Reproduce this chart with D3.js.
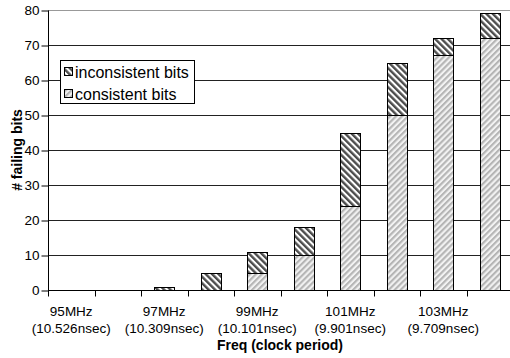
<!DOCTYPE html>
<html><head><meta charset="utf-8">
<script src="https://cdn.jsdelivr.net/npm/d3@7"></script>
<style>body{margin:0;background:#fff}svg{display:block}text{font-family:"Liberation Sans",Arial,sans-serif}</style>
</head><body>
<svg id="c" width="510" height="358"></svg>
<script>
const categories = ["95","96","97","98","99","100","101","102","103","104"];
const freqLabels = ["95MHz","","97MHz","","99MHz","","101MHz","","103MHz",""];
const periodLabels = ["(10.526nsec)","","(10.309nsec)","","(10.101nsec)","","(9.901nsec)","","(9.709nsec)",""];
const consistent = [0,0,0,0,5,10,24,50,67,72];
const inconsistent = [0,0,1,5,6,8,21,15,5,7];
const yTicks = [0,10,20,30,40,50,60,70,80];

(function(){
const svg = d3.select("#c");
const pl = 48, pr = 513, pt = 10, pb = 290;
const x = d3.scaleBand().domain(categories).range([pl, pr]).paddingInner(0).paddingOuter(0);
const y = d3.scaleLinear().domain([0,80]).range([pb, pt]);

const defs = svg.append("defs");
const p1 = defs.append("pattern").attr("id","pInc").attr("patternUnits","userSpaceOnUse")
  .attr("width",4.5).attr("height",4.5).attr("patternTransform","rotate(-45)");
p1.append("rect").attr("width",4.5).attr("height",4.5).attr("fill","#ffffff");
p1.append("rect").attr("width",2.4).attr("height",4.5).attr("fill","#4d4d4d");
const p2 = defs.append("pattern").attr("id","pCon").attr("patternUnits","userSpaceOnUse")
  .attr("width",4.2).attr("height",4.2).attr("patternTransform","rotate(45)");
p2.append("rect").attr("width",4.2).attr("height",4.2).attr("fill","#f2f2f2");
p2.append("rect").attr("width",2.1).attr("height",4.2).attr("fill","#b5b5b5");

// gridlines
svg.append("g").selectAll("line").data(yTicks.filter(d=>d>0)).join("line")
  .attr("x1",pl).attr("x2",510).attr("y1",d=>Math.round(y(d))+0.5).attr("y2",d=>Math.round(y(d))+0.5)
  .attr("stroke",d=>d===80?"#999":"#222").attr("stroke-width",1);

// bars
const bw = 20;
const g = svg.append("g");
categories.forEach((c,i)=>{
  const cx = x(c) + x.bandwidth()/2;
  const x0 = Math.round(cx - bw/2) + 0.5;
  if (consistent[i] > 0) {
    g.append("rect").attr("x",x0).attr("width",bw)
      .attr("y",Math.round(y(consistent[i]))+0.5).attr("height",Math.round(y(0))-Math.round(y(consistent[i])))
      .attr("fill","url(#pCon)").attr("stroke","#000").attr("stroke-width",1);
  }
  if (inconsistent[i] > 0) {
    const t = consistent[i] + inconsistent[i];
    g.append("rect").attr("x",x0).attr("width",bw)
      .attr("y",Math.round(y(t))+0.5).attr("height",Math.round(y(consistent[i]))-Math.round(y(t)))
      .attr("fill","url(#pInc)").attr("stroke","#000").attr("stroke-width",1);
  }
});

// y axis
const ya = svg.append("g").attr("transform",`translate(${pl+0.5},0.5)`)
  .call(d3.axisLeft(y).tickValues(yTicks).tickSize(7).tickPadding(2).tickFormat(d3.format("d")));
ya.select(".domain").attr("d",`M0,${pt}V${pb}`).attr("stroke","#000");
ya.selectAll(".tick line").attr("stroke","#000");
ya.selectAll("text").attr("font-size","13.5px").attr("fill","#000").attr("font-family","Liberation Sans, Arial, sans-serif");

// x axis
const xa = svg.append("g").attr("transform",`translate(0,${Math.round(y(0))+0.5})`);
xa.append("line").attr("x1",pl).attr("x2",510).attr("stroke","#000");
const boundaries = categories.map(c=>x(c));
xa.selectAll(".tk").data(boundaries).join("line").attr("class","tk")
  .attr("x1",d=>Math.round(d)+0.5).attr("x2",d=>Math.round(d)+0.5).attr("y1",0).attr("y2",6).attr("stroke","#000");
xa.selectAll(".l1").data(categories).join("text").attr("class","l1")
  .attr("x",c=>x(c)+x.bandwidth()/2).attr("y",25).attr("text-anchor","middle")
  .attr("font-size","13.5px").text((c,i)=>freqLabels[i]);
xa.selectAll(".l2").data(categories).join("text").attr("class","l2")
  .attr("x",c=>x(c)+x.bandwidth()/2).attr("y",42).attr("text-anchor","middle")
  .attr("font-size","13.5px").text((c,i)=>periodLabels[i]);

// titles
svg.append("text").attr("x",280).attr("y",350).attr("text-anchor","middle")
  .attr("font-size","14px").attr("font-weight","bold").text("Freq (clock period)");
svg.append("text").attr("transform","translate(22,150) rotate(-90)").attr("text-anchor","middle")
  .attr("font-size","14px").attr("font-weight","bold").text("# failing bits");

// legend
const lg = svg.append("g");
lg.append("rect").attr("x",60.5).attr("y",60.5).attr("width",134).attr("height",43).attr("fill","#fff").attr("stroke","#000");
const items = [["inconsistent bits","url(#pInc)"],["consistent bits","url(#pCon)"]];
items.forEach((it,i)=>{
  const yy = 67 + i*22;
  lg.append("rect").attr("x",64.5).attr("y",yy+0.5).attr("width",8).attr("height",8).attr("fill",it[1]).attr("stroke","#000");
  lg.append("text").attr("x",75).attr("y",yy+11).attr("font-size","16px").text(it[0]);
});
})();
</script>
</body></html>
